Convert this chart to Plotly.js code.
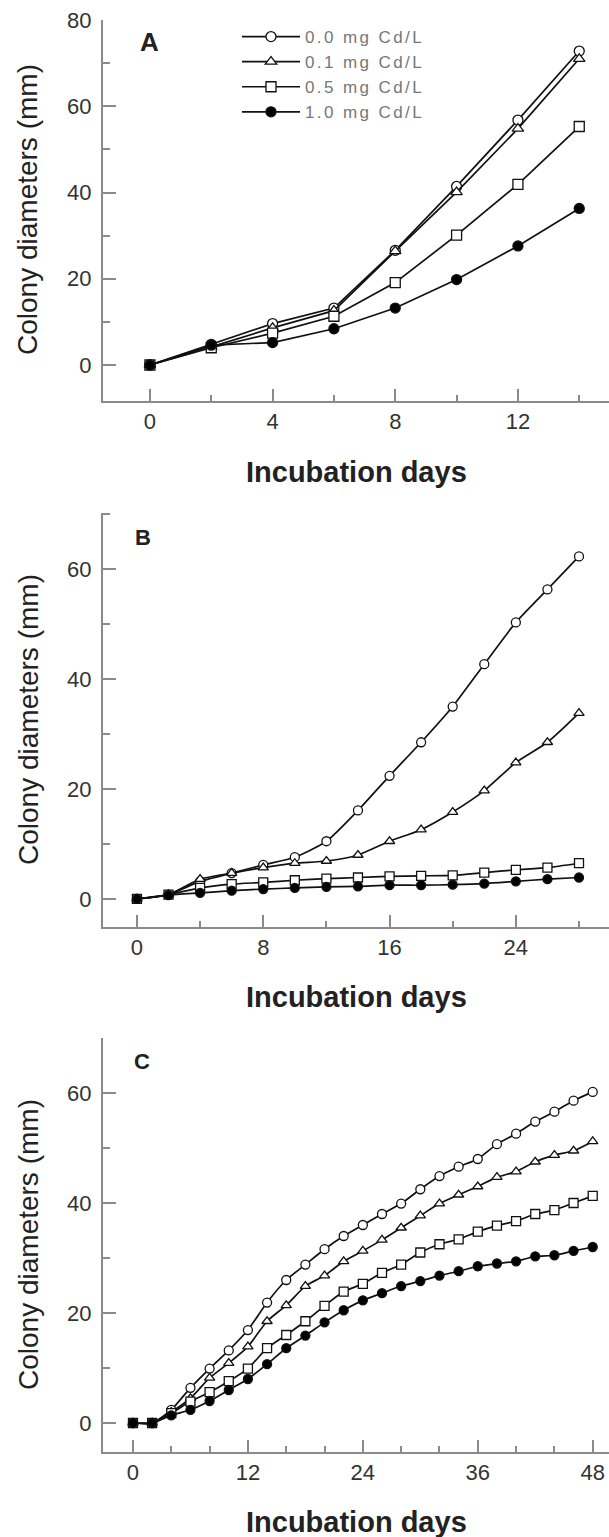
<!DOCTYPE html>
<html>
<head>
<meta charset="utf-8">
<script src="https://cdn.plot.ly/plotly-3.0.1.min.js"></script>
<style>html,body{margin:0;padding:0;background:#fff;}#chart{width:609px;height:1537px;}
#chart .legendtext{letter-spacing:2.4px;}</style>
</head>
<body>
<div id="chart"></div>
<script>
// ---------- data ----------
const seriesNames = ["0.0 mg Cd/L", "0.1 mg Cd/L", "0.5 mg Cd/L", "1.0 mg Cd/L"];

// Panel A
const daysA = [0, 2, 4, 6, 8, 10, 12, 14];
const a_00 = [0, 4.8, 9.6, 13.2, 26.6, 41.4, 56.8, 72.8];
const a_01 = [0, 4.2, 8.6, 12.6, 26.4, 40.1, 54.8, 71.0];
const a_05 = [0, 4.0, 7.4, 11.3, 19.1, 30.1, 41.9, 55.3];
const a_10 = [0, 4.6, 5.2, 8.4, 13.2, 19.8, 27.6, 36.3];

// Panel B
const daysB = [0, 2, 4, 6, 8, 10, 12, 14, 16, 18, 20, 22, 24, 26, 28];
const b_00 = [0, 0.8, 3.2, 4.7, 6.2, 7.6, 10.5, 16.1, 22.4, 28.5, 35.0, 42.7, 50.3, 56.3, 62.3];
const b_01 = [0, 0.8, 3.6, 4.7, 5.7, 6.5, 6.9, 8.0, 10.5, 12.6, 15.8, 19.7, 24.8, 28.5, 33.8];
const b_05 = [0, 0.8, 2.0, 2.7, 3.0, 3.4, 3.7, 3.9, 4.1, 4.2, 4.3, 4.8, 5.3, 5.7, 6.5];
const b_10 = [0, 0.7, 1.1, 1.5, 1.8, 2.0, 2.2, 2.3, 2.5, 2.5, 2.6, 2.8, 3.2, 3.6, 3.9];

// Panel C
const daysC = [0, 2, 4, 6, 8, 10, 12, 14, 16, 18, 20, 22, 24, 26, 28, 30, 32, 34, 36, 38, 40, 42, 44, 46, 48];
const c_00 = [0, 0, 2.4, 6.4, 9.9, 13.2, 16.9, 21.9, 26.0, 28.8, 31.6, 34.0, 36.0, 38.0, 39.9, 42.5, 44.9, 46.6, 48.0, 50.7, 52.6, 54.8, 56.6, 58.6, 60.2];
const c_01 = [0, 0, 2.0, 4.5, 8.2, 10.9, 13.9, 18.5, 21.4, 24.9, 26.8, 29.4, 31.3, 33.3, 35.5, 37.7, 39.9, 41.5, 43.0, 44.7, 45.7, 47.5, 48.7, 49.5, 51.2];
const c_05 = [0, 0, 1.8, 3.9, 5.6, 7.6, 9.9, 13.6, 16.0, 18.5, 21.3, 23.9, 25.3, 27.3, 28.8, 31.0, 32.5, 33.4, 34.8, 35.9, 36.7, 38.0, 38.7, 40.0, 41.3];
const c_10 = [0, 0, 1.4, 2.4, 4.0, 6.0, 8.0, 10.7, 13.6, 15.9, 18.3, 20.5, 22.3, 23.6, 24.9, 25.8, 26.8, 27.6, 28.5, 29.0, 29.4, 30.3, 30.5, 31.3, 32.0];

const panelLabels = ["A", "B", "C"];
const xTitle = "Incubation days";
const yTitle = "Colony diameters (mm)";

// ---------- styling ----------
const FONT = "Liberation Sans, Arial, sans-serif";
const AXC = "#8a8a8a";
const symbols = ["circle", "triangle-up", "square", "circle"];
const fills = ["#ffffff", "#ffffff", "#ffffff", "#000000"];

function mk(x, ys, xa, ya, size, shape, legend) {
  return ys.map((y, i) => ({
    x: x, y: y, xaxis: xa, yaxis: ya, type: "scatter", mode: "lines+markers",
    name: seriesNames[i], showlegend: legend,
    line: {color: "#111", width: 1.7, shape: shape, smoothing: 0.6},
    marker: {symbol: symbols[i], size: size, color: fills[i], line: {color: "#111", width: 1.3}}
  }));
}

const traces = [].concat(
  mk(daysA, [a_00, a_01, a_05, a_10], "x", "y", 10, "linear", true),
  mk(daysB, [b_00, b_01, b_05, b_10], "x2", "y2", 9, "spline", false),
  mk(daysC, [c_00, c_01, c_05, c_10], "x3", "y3", 9, "spline", false)
);

function xax(range, dtick, minor, anchor) {
  return {
    range: range, domain: [103/609, 1], anchor: anchor,
    showline: true, linecolor: AXC, linewidth: 2, mirror: false,
    ticks: "inside", ticklen: 12, tickwidth: 2, tickcolor: AXC,
    tick0: 0, dtick: dtick,
    minor: {dtick: minor, tick0: 0, ticks: "inside", ticklen: 6, tickwidth: 2, tickcolor: AXC},
    showgrid: false, zeroline: false,
    tickfont: {family: FONT, size: 22, color: "#333"},
    ticklabelstandoff: 0, fixedrange: true
  };
}
function yax(range, top, bottom, anchor) {
  return {
    range: range, domain: [1 - bottom/1537, 1 - top/1537], anchor: anchor,
    showline: true, linecolor: AXC, linewidth: 2,
    ticks: "inside", ticklen: 13, tickwidth: 2, tickcolor: AXC,
    tick0: 0, dtick: 20,
    minor: {dtick: 10, tick0: 0, ticks: "inside", ticklen: 7, tickwidth: 2, tickcolor: AXC},
    showgrid: false, zeroline: false,
    tickfont: {family: FONT, size: 22, color: "#333"},
    ticklabelstandoff: 5, fixedrange: true
  };
}

const ann = [];
const yCenters = [210, 720, 1245];
const xTitleY = [472, 997, 1522];
for (let i = 0; i < 3; i++) {
  ann.push({xref: "paper", yref: "paper", x: 28/609, y: 1 - yCenters[i]/1537, text: yTitle,
    textangle: -90, showarrow: false, xanchor: "center", yanchor: "middle",
    font: {family: FONT, size: 28, color: "#222"}});
  ann.push({xref: "paper", yref: "paper", x: 357/609, y: 1 - xTitleY[i]/1537, text: "<b>" + xTitle + "</b>",
    showarrow: false, xanchor: "center", yanchor: "middle",
    font: {family: FONT, size: 29, color: "#222"}});
}
const letterPos = [[0, 75, "x", "y", 26], [0.4, 65.8, "x2", "y2", 22], [0.9, 65.8, "x3", "y3", 22]];
letterPos.forEach((p, i) => ann.push({xref: p[2], yref: p[3], x: p[0], y: p[1], text: "<b>" + panelLabels[i] + "</b>",
  showarrow: false, xanchor: "center", yanchor: "middle", font: {family: FONT, size: p[4], color: "#222"}}));

const layout = {
  width: 609, height: 1537,
  margin: {l: 0, r: 0, t: 0, b: 0},
  paper_bgcolor: "#fff", plot_bgcolor: "#fff",
  showlegend: true,
  legend: {x: 237/609, y: 1 - 19/1537, xanchor: "left", yanchor: "top",
    bgcolor: "rgba(0,0,0,0)", borderwidth: 0, itemwidth: 58, tracegroupgap: 0,
    font: {family: FONT, size: 17, color: "#777"}},
  xaxis: xax([-1.53, 14.97], 4, 2, "y"),
  yaxis: yax([-8.35, 80], 20, 401, "x"),
  xaxis2: xax([-2.15, 29.9], 8, 4, "y2"),
  yaxis2: yax([-5.1, 70.2], 513, 927, "x2"),
  xaxis3: xax([-3.13, 49.7], 12, 4, "y3"),
  yaxis3: yax([-5.27, 70], 1038, 1452, "x3"),
  annotations: ann
};

Plotly.newPlot("chart", traces, layout, {staticPlot: true, displayModeBar: false}).then(function () {
  // let the letter-spaced legend labels show in full
  document.querySelectorAll("#chart .legend .scrollbox, #chart .legend").forEach(function (el) {
    el.removeAttribute("clip-path");
  });
});
</script>
</body>
</html>
